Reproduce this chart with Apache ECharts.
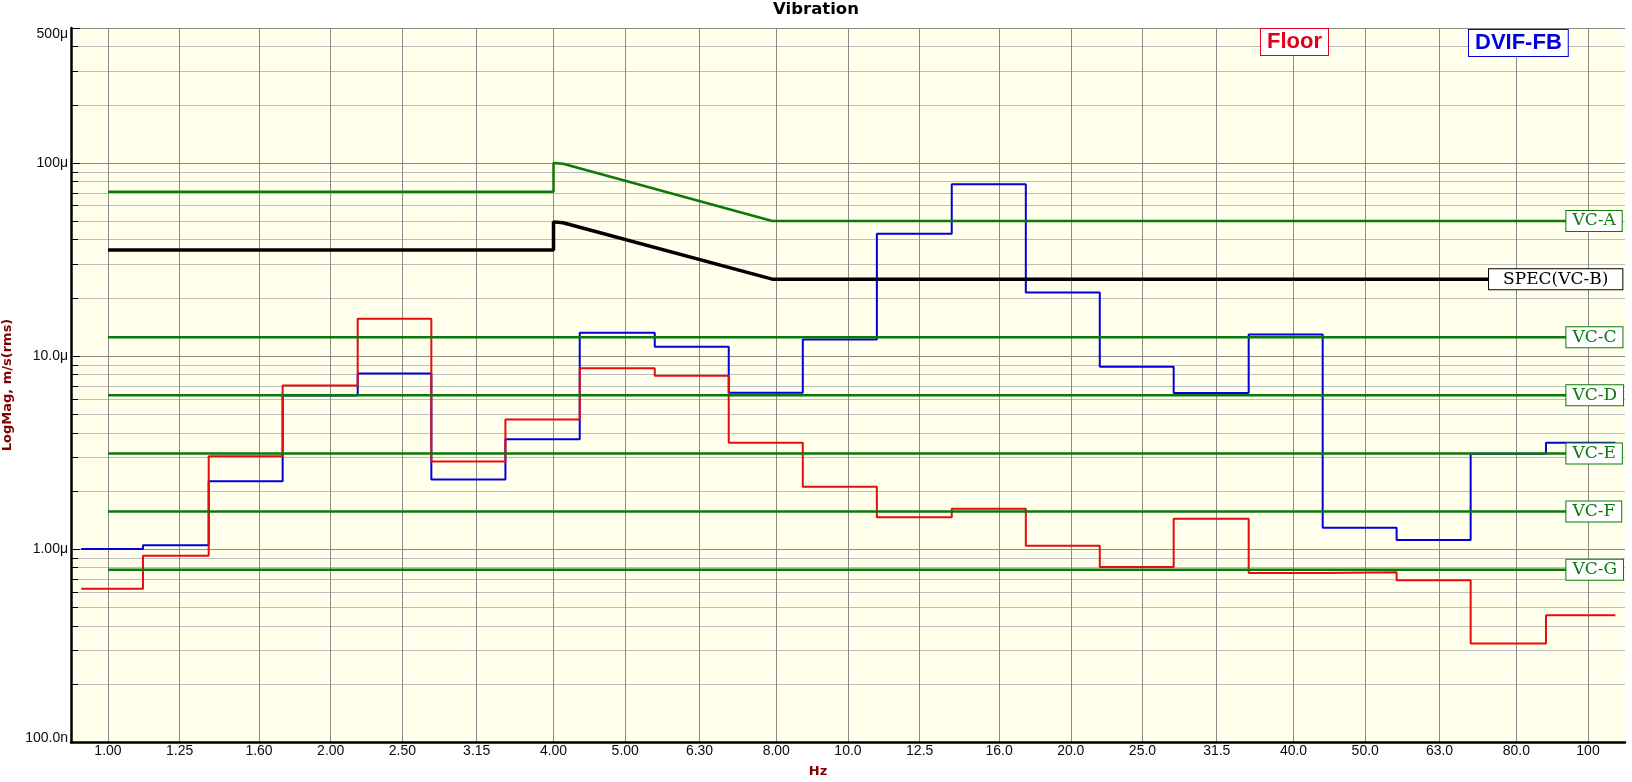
<!DOCTYPE html>
<html>
<head>
<meta charset="utf-8">
<script src="https://cdn.jsdelivr.net/npm/echarts@6/dist/echarts.min.js"></script>
<style>
html,body{margin:0;padding:0;background:#ffffff;}
#chart{width:1632px;height:782px;}
</style>
</head>
<body>
<div id="chart"></div>
<script>
// ---------- data (velocities in micro m/s, frequencies in Hz) ----------
const bandLabels = ['1.00','1.25','1.60','2.00','2.50','3.15','4.00','5.00','6.30','8.00','10.0',
                    '12.5','16.0','20.0','25.0','31.5','40.0','50.0','63.0','80.0','100'];
// step edges: start, 20 inner edges, end
const bandEdgesHz = [0.920, 1.115, 1.368, 1.722, 2.175, 2.735, 3.444, 4.340, 5.481, 6.900, 8.688,
                     10.94, 13.81, 17.39, 21.89, 27.55, 34.79, 43.80, 55.13, 69.41, 87.74, 108.9];
const floorVel = [0.622, 0.923, 3.02, 7.02, 15.6, 2.84, 4.69, 8.63, 7.90, 3.55, 2.10,
                  1.458, 1.618, 1.04, 0.807, 1.436, 0.751, 0.757, 0.688, 0.324, 0.453];
const dvifVel  = [1.00, 1.044, 2.24, 6.23, 8.12, 2.29, 3.70, 13.2, 11.17, 6.45, 12.15,
                  43.0, 77.5, 21.3, 8.80, 6.43, 12.9, 1.29, 1.113, 3.11, 3.555];
const vcNames  = ['VC-C', 'VC-D', 'VC-E', 'VC-F', 'VC-G'];
const vcLevels = [12.5, 6.25, 3.125, 1.5625, 0.78125];
const vcRangeHz = [1.0, 93.5];
const vcaHz  = [1.0, 4.0, 4.0, 4.12, 7.9, 93.5];
const vcaVel = [71.0, 71.0, 100.0, 99.0, 50.0, 50.0];
const specHz  = [1.0, 4.0, 4.0, 4.12, 7.9, 73.5];
const specVel = [35.4, 35.4, 49.5, 49.0, 25.0, 25.0];
const yTickValues = [1e-7, 1e-6, 1e-5, 1e-4, 5e-4];
const yTickLabels = ['100.0n', '1.00\u03bc', '10.0\u03bc', '100\u03bc', '500\u03bc'];
const yMinorDecades = [1e-7, 1e-6, 1e-5, 1e-4];
const yMinorMultipliers = [2, 3, 4, 5, 6, 7, 8, 9];
const X_MIN_HZ = 0.8913, X_MAX_HZ = 112.2;

// ---------- helpers ----------
const L = Math.log10;
const UM = 1e-6;
const bandLogs = bandLabels.map(s => L(parseFloat(s)));
const yMinorValues = [];
yMinorDecades.forEach(d => yMinorMultipliers.forEach(m => { if (d * m < 5e-4) yMinorValues.push(d * m); }));

function stepData(vals) {
  const d = vals.map((v, i) => [L(bandEdgesHz[i]), L(v * UM)]);
  d.push([L(bandEdgesHz[bandEdgesHz.length - 1]), L(vals[vals.length - 1] * UM)]);
  return d;
}
function curveData(hz, vel) { return hz.map((f, i) => [L(f), L(vel[i] * UM)]); }

const SANS = 'Liberation Sans, Arial, sans-serif';
const WIDE = 'DejaVu Sans, Verdana, sans-serif';
const LABELF = 'DejaVu Serif, serif';
const GREEN = '#0b780b';
const TXT = '#0a0a0a';

function boxLabel(name, color, pad) {
  return {
    show: true, formatter: () => name, distance: 0,
    color: color, fontFamily: LABELF, fontSize: 17,
    backgroundColor: '#ffffff', borderColor: color, borderWidth: 1,
    padding: pad || [1, 6, 0, 6], lineHeight: 19
  };
}

const series = [
  { name: 'DVIF-FB', type: 'line', step: 'end', data: stepData(dvifVel), showSymbol: false,
    lineStyle: { color: '#0000dc', width: 2 }, itemStyle: { color: '#0000dc' }, z: 3, silent: true },
  { name: 'Floor', type: 'line', step: 'end', data: stepData(floorVel), showSymbol: false,
    lineStyle: { color: '#e40c0c', width: 2 }, itemStyle: { color: '#e40c0c' }, z: 3, silent: true },
  { name: 'VC-A', type: 'line', data: curveData(vcaHz, vcaVel), showSymbol: false,
    lineStyle: { color: GREEN, width: 2.5 }, itemStyle: { color: GREEN }, z: 4, silent: true,
    endLabel: boxLabel('VC-A', GREEN) },
  { name: 'SPEC(VC-B)', type: 'line', data: curveData(specHz, specVel), showSymbol: false,
    lineStyle: { color: '#000000', width: 3.5 }, itemStyle: { color: '#000000' }, z: 4, silent: true,
    endLabel: boxLabel('SPEC(VC-B)', '#000000', [1, 14, 0, 14]) }
];
vcNames.forEach((n, i) => {
  series.push({
    name: n, type: 'line', showSymbol: false, silent: true, z: 4,
    data: vcRangeHz.map(f => [L(f), L(vcLevels[i] * UM)]),
    lineStyle: { color: GREEN, width: 2.5 }, itemStyle: { color: GREEN },
    endLabel: boxLabel(n, GREEN)
  });
});

function legendFor(name, color, left, top) {
  return {
    data: [name], left: left, top: top, padding: 0, itemWidth: 0, itemHeight: 0, itemGap: 0,
    icon: 'rect', selectedMode: false,
    textStyle: { color: color, fontFamily: SANS, fontWeight: 'bold', fontSize: 22,
                 backgroundColor: '#ffffff', borderColor: color, borderWidth: 1,
                 padding: [3, 6, 1, 6] }
  };
}

const option = {
  animation: false,
  backgroundColor: '#ffffff',
  title: { text: 'Vibration', left: 'center', top: 1, padding: 0,
           textStyle: { fontFamily: WIDE, fontWeight: 'bold', fontSize: 16.5, color: '#000' } },
  legend: [ legendFor('Floor', '#e00018', 1256, 28), legendFor('DVIF-FB', '#0000dc', 1464, 29) ],
  grid: { left: 71, right: 7, top: 28, bottom: 40, show: true, backgroundColor: '#ffffeb',
          borderWidth: 0, containLabel: false, outerBoundsMode: 'none' },
  xAxis: {
    type: 'value', min: L(X_MIN_HZ), max: L(X_MAX_HZ),
    name: 'Hz', nameLocation: 'middle', nameGap: 23,
    nameTextStyle: { color: '#800000', fontFamily: WIDE, fontWeight: 'bold', fontSize: 13, padding: [0, 60, 0, 0] },
    axisLine: { show: true, onZero: false, lineStyle: { color: '#000', width: 2.5 } },
    axisTick: { show: false, customValues: bandLogs },
    axisLabel: { customValues: bandLogs, margin: 2, color: TXT, fontFamily: SANS, fontSize: 14,
                 formatter: v => { let bi = 0, bd = 1e9; bandLogs.forEach((b, i) => { const d = Math.abs(b - v); if (d < bd) { bd = d; bi = i; } }); return bandLabels[bi]; } },
    splitLine: { show: true, lineStyle: { color: '#8a8a8a', width: 1 } }
  },
  yAxis: [
    {
      type: 'value', min: -7, max: L(5e-4),
      name: 'LogMag, m/s(rms)', nameLocation: 'middle', nameGap: 53,
      nameTextStyle: { color: '#800000', fontFamily: WIDE, fontWeight: 'bold', fontSize: 13 },
      axisLine: { show: true, onZero: false, lineStyle: { color: '#000', width: 2.5 } },
      axisTick: { show: true, inside: true, length: 9, customValues: yTickValues.map(L), lineStyle: { color: '#000', width: 1 } },
      axisLabel: { customValues: yTickValues.map(L), margin: 3, color: TXT, fontFamily: SANS, fontSize: 14,
                   formatter: v => { let bi = 0, bd = 1e9; yTickValues.forEach((t, i) => { const d = Math.abs(L(t) - v); if (d < bd) { bd = d; bi = i; } });
                                     if (bi === yTickValues.length - 1) return '{top|' + yTickLabels[bi] + '}';
                                     if (bi === 0) return '{bot|' + yTickLabels[bi] + '}';
                                     return yTickLabels[bi]; },
                   rich: { top: { padding: [12, 0, 0, 0], fontSize: 14, fontFamily: SANS, color: TXT },
                           bot: { padding: [0, 0, 8, 0], fontSize: 14, fontFamily: SANS, color: TXT } } },
      splitLine: { show: true, lineStyle: { color: '#8a8a8a', width: 1 } }
    },
    {
      type: 'value', min: -7, max: L(5e-4), position: 'left',
      axisLine: { show: false, onZero: false },
      axisTick: { show: true, inside: true, length: 7, customValues: yMinorValues.map(L), lineStyle: { color: '#000', width: 1 } },
      axisLabel: { show: false },
      splitLine: { show: true, lineStyle: { color: '#bdbdbd', width: 1 } }
    }
  ],
  series: series
};

const chart = echarts.init(document.getElementById('chart'), null, { renderer: 'canvas' });
chart.setOption(option);
</script>
</body>
</html>
